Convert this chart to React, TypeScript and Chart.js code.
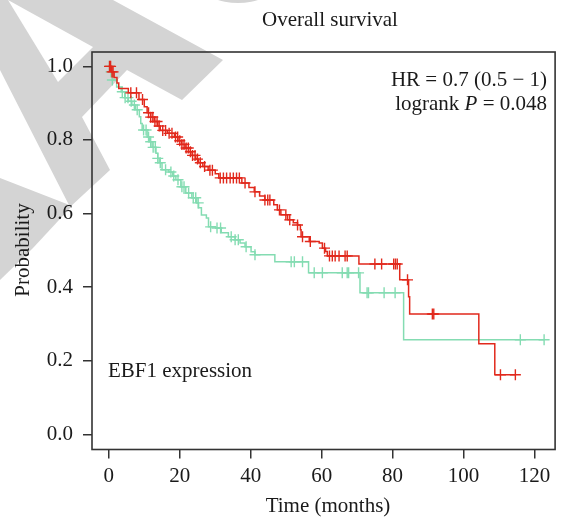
import React, { useEffect, useRef } from "react";
import { Chart, registerables } from "chart.js";

Chart.register(...registerables);

// Axis ticks
const xTicks = [0, 20, 40, 60, 80, 100, 120];
const yTicks = [0, 0.2, 0.4, 0.6, 0.8, 1.0];

// High EBF1 expression (red): step times in months and survival after each step
const highTimes = [0, 0.8, 1.5, 2.3, 2.8, 5.5, 8.5, 10.0, 10.8, 11.8, 12.8, 13.8, 14.5, 16.5, 18.5, 19.5, 20.5, 21.5, 22.5, 23.5, 24.5, 25.3, 26.5, 28.0, 30.0, 31.0, 37.5, 39.5, 41.0, 42.5, 44.0, 46.5, 47.5, 48.5, 50.4, 52.0, 53.2, 54.0, 54.2, 56.5, 59.3, 60.2, 61.1, 61.6, 70.5, 82.0, 84.5, 84.8, 104.3, 108.8, 114.6];
const highSurv = [1.0, 0.985, 0.97, 0.955, 0.94, 0.928, 0.91, 0.89, 0.874, 0.862, 0.85, 0.838, 0.826, 0.818, 0.808, 0.798, 0.788, 0.778, 0.768, 0.758, 0.748, 0.738, 0.728, 0.718, 0.708, 0.697, 0.683, 0.671, 0.659, 0.648, 0.637, 0.624, 0.61, 0.597, 0.583, 0.575, 0.569, 0.556, 0.537, 0.524, 0.52, 0.506, 0.497, 0.485, 0.463, 0.42, 0.374, 0.327, 0.246, 0.162, 0.162];
// Censoring times (months)
const highCensor = [0.2, 0.5, 0.9, 1.2, 6.2, 7.8, 9.5, 11.2, 11.8, 12.4, 13.0, 13.6, 14.2, 15.2, 16.0, 17.0, 17.8, 18.8, 19.4, 20.0, 20.6, 21.2, 21.8, 22.4, 23.0, 23.6, 24.3, 25.0, 25.8, 27.0, 28.5, 29.2, 31.4, 32.3, 33.2, 34.2, 35.1, 36.0, 36.8, 38.4, 41.2, 44.0, 44.8, 45.4, 48.1, 49.9, 51.0, 53.2, 54.6, 56.8, 60.8, 62.2, 63.0, 63.8, 64.9, 66.6, 67.2, 75.0, 76.9, 80.3, 80.8, 81.3, 84.2, 91.2, 91.6, 110.4, 114.6];

// Low EBF1 expression (green)
const lowTimes = [0, 0.5, 1.0, 2.2, 3.5, 4.5, 5.5, 6.5, 7.5, 8.6, 9.0, 9.4, 10.8, 11.5, 12.2, 13.3, 13.8, 14.2, 15.0, 16.9, 18.0, 18.9, 20.3, 21.7, 23.4, 24.8, 25.3, 26.1, 27.5, 28.1, 30.1, 31.7, 33.7, 35.6, 37.0, 38.4, 40.1, 41.2, 46.8, 56.3, 70.8, 83.1, 122.7];
const lowSurv = [1.0, 0.985, 0.963, 0.944, 0.931, 0.915, 0.905, 0.895, 0.882, 0.863, 0.845, 0.827, 0.808, 0.795, 0.78, 0.764, 0.75, 0.738, 0.719, 0.713, 0.702, 0.692, 0.673, 0.656, 0.643, 0.629, 0.616, 0.596, 0.588, 0.564, 0.561, 0.548, 0.537, 0.529, 0.52, 0.51, 0.496, 0.488, 0.469, 0.439, 0.385, 0.257, 0.257];
const lowCensor = [0.2, 0.6, 1.0, 3.8, 4.6, 5.4, 6.3, 7.2, 8.0, 9.8, 10.5, 11.2, 11.8, 12.5, 13.1, 13.8, 14.5, 16.0, 17.5, 18.3, 19.5, 20.6, 21.2, 22.5, 23.8, 24.5, 25.2, 28.7, 30.5, 31.5, 34.5, 35.6, 36.5, 38.7, 41.2, 51.4, 52.3, 54.6, 57.9, 60.2, 65.8, 67.2, 67.6, 70.4, 72.8, 73.2, 77.6, 80.7, 116.0, 122.7];

const titleText = "Overall survival";
const xTitle = "Time (months)";
const yTitle = "Probability";
const hrText = "HR = 0.7 (0.5 \u2212 1)";
const pValue = "0.048";
const groupTitle = "EBF1 expression";

const RED = "#e1291c";
const GREEN = "#84dcb2";
const FONT = "'Liberation Serif', 'DejaVu Serif', serif";
const FS = 21;

// survival value of a step curve at time t
function survAt(times: number[], surv: number[], t: number) {
  let v = surv[0];
  for (let i = 0; i < times.length; i++) {
    if (times[i] <= t) v = surv[i];
    else break;
  }
  return v;
}

const curve = (times: number[], surv: number[]) =>
  times.map((t, i) => ({ x: t, y: surv[i] }));
const marks = (times: number[], surv: number[], cens: number[]) =>
  cens.map((t) => ({ x: t, y: survAt(times, surv, t) }));

const decorPlugin = {
  id: "decor",
  beforeDraw(chart: any) {
    const ctx = chart.ctx;
    ctx.save();
    ctx.fillStyle = "#ffffff";
    ctx.fillRect(0, 0, chart.width, chart.height);
    // grey logo shapes behind the plot
    ctx.fillStyle = "#d4d4d4";
    ctx.beginPath();
    ctx.moveTo(0, 0);
    ctx.lineTo(113, 0);
    ctx.lineTo(223, 60);
    ctx.lineTo(182, 100);
    ctx.lineTo(127, 70);
    ctx.lineTo(82, 117);
    ctx.lineTo(110, 170);
    ctx.lineTo(70, 207);
    ctx.lineTo(0, 70);
    ctx.closePath();
    ctx.fill();
    ctx.beginPath();
    ctx.moveTo(0, 178);
    ctx.lineTo(72, 206);
    ctx.lineTo(33, 248);
    ctx.lineTo(0, 280);
    ctx.closePath();
    ctx.fill();
    ctx.beginPath();
    ctx.arc(238, -65, 68, 0, Math.PI * 2);
    ctx.fill();
    ctx.fillStyle = "#ffffff";
    ctx.beginPath();
    ctx.moveTo(8, 0);
    ctx.lineTo(93, 47);
    ctx.lineTo(58, 82);
    ctx.closePath();
    ctx.fill();
    ctx.restore();
  },
  afterDraw(chart: any) {
    const ctx = chart.ctx;
    const a = chart.chartArea;
    ctx.save();
    ctx.strokeStyle = "#333333";
    ctx.lineWidth = 1.6;
    ctx.strokeRect(a.left, a.top, a.right - a.left, a.bottom - a.top);

    ctx.fillStyle = "#1a1a1a";
    ctx.font = `${FS}px ${FONT}`;
    ctx.textBaseline = "alphabetic";
    ctx.textAlign = "center";
    ctx.fillText(titleText, 330, 26);
    ctx.fillText(xTitle, 328, 512);

    // HR and log-rank annotation, right aligned
    ctx.textAlign = "left";
    const rightX = 547;
    const w1 = ctx.measureText(hrText).width;
    ctx.fillText(hrText, rightX - w1, 86);
    const partA = "logrank ";
    const partC = " = " + pValue;
    const wA = ctx.measureText(partA).width;
    const wC = ctx.measureText(partC).width;
    ctx.font = `italic ${FS}px ${FONT}`;
    const wB = ctx.measureText("P").width;
    let x = rightX - wA - wB - wC;
    ctx.font = `${FS}px ${FONT}`;
    ctx.fillText(partA, x, 110);
    x += wA;
    ctx.font = `italic ${FS}px ${FONT}`;
    ctx.fillText("P", x, 110);
    x += wB;
    ctx.font = `${FS}px ${FONT}`;
    ctx.fillText(partC, x, 110);

    ctx.fillText(groupTitle, 108, 377);

    ctx.translate(29, 250);
    ctx.rotate(-Math.PI / 2);
    ctx.textAlign = "center";
    ctx.fillText(yTitle, 0, 0);
    ctx.restore();
  },
};

export default function App() {
  const ref = useRef<HTMLCanvasElement>(null);

  useEffect(() => {
    if (!ref.current) return;
    const tickFont = { family: FONT, size: FS };
    const chart = new Chart(ref.current, {
      type: "line",
      data: {
        datasets: [
          {
            type: "scatter",
            data: marks(highTimes, highSurv, highCensor),
            pointStyle: "cross",
            pointRadius: 5.5,
            pointBorderWidth: 1.4,
            borderColor: RED,
            backgroundColor: RED,
            showLine: false,
          },
          {
            data: curve(highTimes, highSurv),
            stepped: true,
            borderColor: RED,
            borderWidth: 1.5,
            pointRadius: 0,
            fill: false,
          },
          {
            type: "scatter",
            data: marks(lowTimes, lowSurv, lowCensor),
            pointStyle: "cross",
            pointRadius: 5.5,
            pointBorderWidth: 1.4,
            borderColor: GREEN,
            backgroundColor: GREEN,
            showLine: false,
          },
          {
            data: curve(lowTimes, lowSurv),
            stepped: true,
            borderColor: GREEN,
            borderWidth: 1.5,
            pointRadius: 0,
            fill: false,
          },
        ] as any,
      },
      options: {
        animation: false,
        responsive: false,
        devicePixelRatio: 1,
        layout: { padding: { left: 0, top: 52, right: 2, bottom: 0 } },
        plugins: {
          legend: { display: false },
          tooltip: { enabled: false },
          title: { display: false },
        },
        scales: {
          x: {
            type: "linear",
            min: -4.74,
            max: 125.8,
            afterBuildTicks: (s: any) => {
              s.ticks = xTicks.map((v) => ({ value: v }));
            },
            afterFit: (s: any) => {
              s.height = 72.5;
            },
            ticks: {
              font: tickFont,
              color: "#1a1a1a",
              padding: 5,
              maxRotation: 0,
              autoSkip: false,
              callback: (v: any) => String(v),
            },
            grid: {
              drawOnChartArea: false,
              drawTicks: true,
              tickLength: 9,
              color: "#333333",
              lineWidth: 1.5,
            },
            border: { display: false },
          },
          y: {
            type: "linear",
            min: -0.041,
            max: 1.039,
            afterBuildTicks: (s: any) => {
              s.ticks = yTicks.map((v) => ({ value: v }));
            },
            afterFit: (s: any) => {
              s.width = 92;
            },
            ticks: {
              font: tickFont,
              color: "#1a1a1a",
              padding: 10,
              autoSkip: false,
              callback: (v: any) => Number(v).toFixed(1),
            },
            grid: {
              drawOnChartArea: false,
              drawTicks: true,
              tickLength: 9,
              color: "#333333",
              lineWidth: 1.5,
            },
            border: { display: false },
          },
        },
      },
      plugins: [decorPlugin],
    } as any);
    return () => chart.destroy();
  }, []);

  return (
    <div style={{ position: "fixed", left: 0, top: 0, width: 562, height: 522, background: "#fff" }}>
      <canvas ref={ref} width={562} height={522} style={{ display: "block" }} />
    </div>
  );
}
